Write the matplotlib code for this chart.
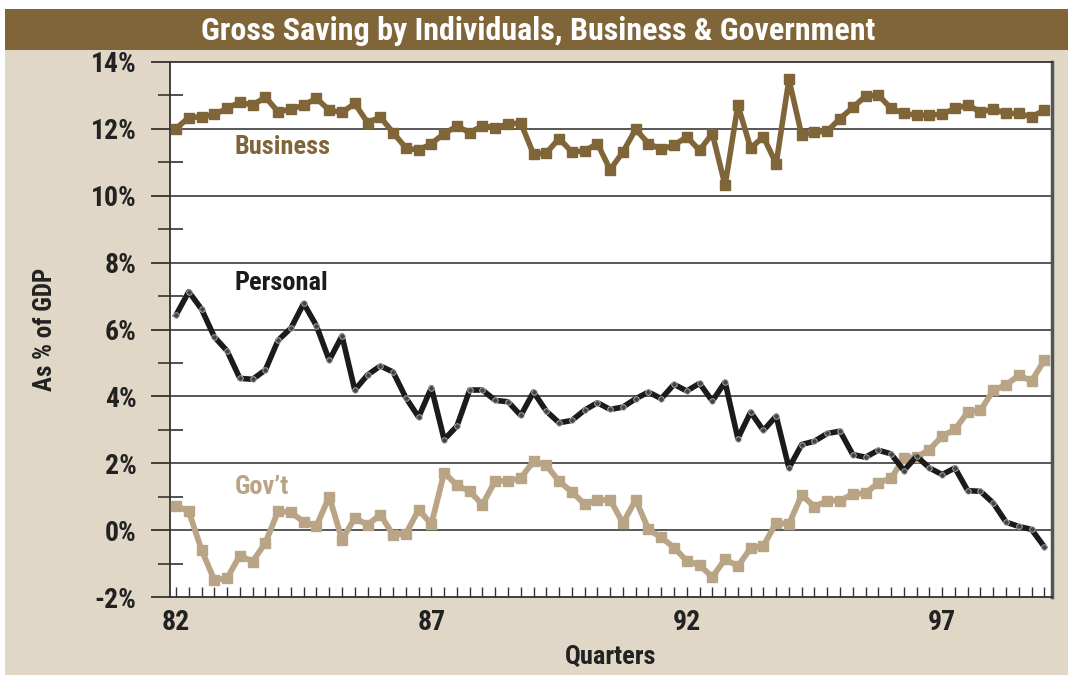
import matplotlib
matplotlib.use("Agg")
import matplotlib.pyplot as plt
from matplotlib import font_manager as fm
from matplotlib.patches import Rectangle
from matplotlib.ticker import MultipleLocator, FixedLocator, FuncFormatter
import pandas as pd
import numpy as np

quarters = pd.period_range("1982Q1", "1999Q1", freq="Q")
tick_years = ["82", "87", "92", "97"]

business = [12.01, 12.34, 12.36, 12.43, 12.61, 12.80, 12.71, 12.95, 12.51, 12.59,
            12.71, 12.91, 12.56, 12.49, 12.76, 12.19, 12.35, 11.89, 11.43, 11.36,
            11.56, 11.86, 12.08, 11.89, 12.09, 12.04, 12.14, 12.18, 11.24, 11.28,
            11.71, 11.31, 11.34, 11.56, 10.78, 11.31, 11.99, 11.56, 11.39, 11.51,
            11.76, 11.36, 11.86, 10.31, 12.71, 11.43, 11.76, 10.96, 13.48, 11.81,
            11.91, 11.93, 12.31, 12.64, 12.98, 13.01, 12.61, 12.46, 12.41, 12.41,
            12.44, 12.61, 12.71, 12.51, 12.59, 12.46, 12.46, 12.36, 12.56]
personal = [6.43, 7.13, 6.61, 5.78, 5.36, 4.54, 4.51, 4.79, 5.68, 6.04,
            6.78, 6.11, 5.08, 5.81, 4.19, 4.64, 4.91, 4.73, 3.96, 3.38,
            4.26, 2.71, 3.11, 4.19, 4.19, 3.88, 3.84, 3.43, 4.13, 3.56,
            3.21, 3.28, 3.59, 3.81, 3.61, 3.68, 3.93, 4.13, 3.93, 4.36,
            4.16, 4.39, 3.86, 4.43, 2.74, 3.53, 2.98, 3.41, 1.86, 2.56,
            2.66, 2.89, 2.96, 2.26, 2.18, 2.39, 2.28, 1.78, 2.21, 1.86,
            1.66, 1.86, 1.18, 1.16, 0.81, 0.24, 0.11, 0.02, -0.50]
govt = [0.73, 0.56, -0.59, -1.49, -1.44, -0.76, -0.94, -0.38, 0.57, 0.53,
        0.25, 0.13, 1.00, -0.29, 0.36, 0.16, 0.46, -0.14, -0.11, 0.61,
        0.18, 1.72, 1.34, 1.16, 0.76, 1.48, 1.46, 1.56, 2.06, 1.94,
        1.46, 1.14, 0.78, 0.89, 0.91, 0.21, 0.91, 0.02, -0.22, -0.52,
        -0.92, -1.05, -1.40, -0.87, -1.08, -0.54, -0.47, 0.22, 0.18, 1.05,
        0.70, 0.88, 0.88, 1.08, 1.10, 1.42, 1.55, 2.15, 2.18, 2.41,
        2.81, 3.01, 3.53, 3.58, 4.18, 4.34, 4.63, 4.46, 5.08]

BROWN = "#806539"
TAN = "#b9a586"
BLACK = "#1c1a1a"
BEIGE = "#e0d7c7"

installed = {f.name for f in fm.fontManager.ttflist}
cands = ["Liberation Sans Narrow", "DejaVu Sans Condensed", "Roboto Condensed",
         "Open Sans Condensed", "Roboto", "DejaVu Sans"]
FONT = [c for c in cands if c in installed] or ["DejaVu Sans"]
STRETCH = "condensed"
W = "heavy"

x = np.arange(len(quarters))

fig = plt.figure(figsize=(10.68, 6.75), dpi=100)
fig.patch.set_facecolor("white")
fig.add_artist(Rectangle((5 / 1068, 0), 1 - 5 / 1068, 1 - 9 / 675,
                         transform=fig.transFigure, facecolor=BEIGE,
                         edgecolor="none", zorder=-10))
fig.add_artist(Rectangle((5 / 1068, 1 - 50 / 675), 1 - 5 / 1068, 41 / 675,
                         transform=fig.transFigure, facecolor=BROWN,
                         edgecolor="none", zorder=-9))
fig.text(538 / 1068, 1 - 31 / 675, "Gross Saving by Individuals, Business & Government",
         ha="center", va="center", color="white", fontsize=23, fontweight=W,
         family=FONT, stretch=STRETCH)

ax = fig.add_axes([170 / 1068, 1 - 597 / 675, (1052 - 170) / 1068, (597 - 62) / 675])
ax.set_facecolor("white")

ax.plot(x, business, color=BROWN, lw=4.0, marker="s", ms=6.5, zorder=4)
ax.plot(x, govt, color=TAN, lw=4.2, marker="s", ms=6.5, zorder=3)
ax.plot(x, personal, color=BLACK, lw=4.0, marker="o", ms=4,
        mfc="#444444", mec="#bbbbbb", mew=0.6, zorder=5)

ax.set_xlim(-0.47, 68.6)
ax.set_ylim(-2, 14)

for v in range(0, 14, 2):
    ax.axhline(v, color="#4a4a4a", lw=1.3, zorder=1)

ax.yaxis.set_major_locator(MultipleLocator(2))
ax.yaxis.set_minor_locator(MultipleLocator(1))
ax.yaxis.set_major_formatter(FuncFormatter(lambda v, p: f"{v:.0f}%"))
ax.tick_params(axis="y", which="major", direction="out", length=14, width=1.3,
               color="#333333", pad=10, labelsize=20)
ax.tick_params(axis="y", which="minor", direction="inout", length=18, width=1.2,
               color="#333333")

ax.xaxis.set_major_locator(FixedLocator([i for i in x if i % 20 == 0]))
ax.xaxis.set_minor_locator(FixedLocator(list(x)))
ax.set_xticklabels(tick_years)
ax.tick_params(axis="x", which="both", direction="in", length=7, width=1.0,
               color="#333333", labelsize=20, pad=9)

for lab in ax.get_xticklabels() + ax.get_yticklabels():
    lab.set_family(FONT)
    lab.set_stretch(STRETCH)
    lab.set_fontweight(W)
    lab.set_color("#222222")

for side in ["left", "bottom", "top"]:
    ax.spines[side].set_color("#333333")
    ax.spines[side].set_linewidth(1.3)
ax.spines["right"].set_color("#555555")
ax.spines["right"].set_linewidth(2.5)

ax.set_ylabel("As % of GDP", fontsize=18, fontweight=W, family=FONT,
              stretch=STRETCH, color="#222222", labelpad=24)
ax.set_xlabel("Quarters", fontsize=19, fontweight=W, family=FONT,
              stretch=STRETCH, color="#222222", labelpad=6)

ax.text(4.6, 11.45, "Business", color=BROWN, fontsize=19, fontweight=W,
        family=FONT, stretch=STRETCH, va="center", ha="left")
ax.text(4.6, 7.4, "Personal", color=BLACK, fontsize=19, fontweight=W,
        family=FONT, stretch=STRETCH, va="center", ha="left")
ax.text(4.6, 1.3, "Gov\u2019t", color=TAN, fontsize=19, fontweight=W,
        family=FONT, stretch=STRETCH, va="center", ha="left")

fig.savefig("out.png", dpi=100)
